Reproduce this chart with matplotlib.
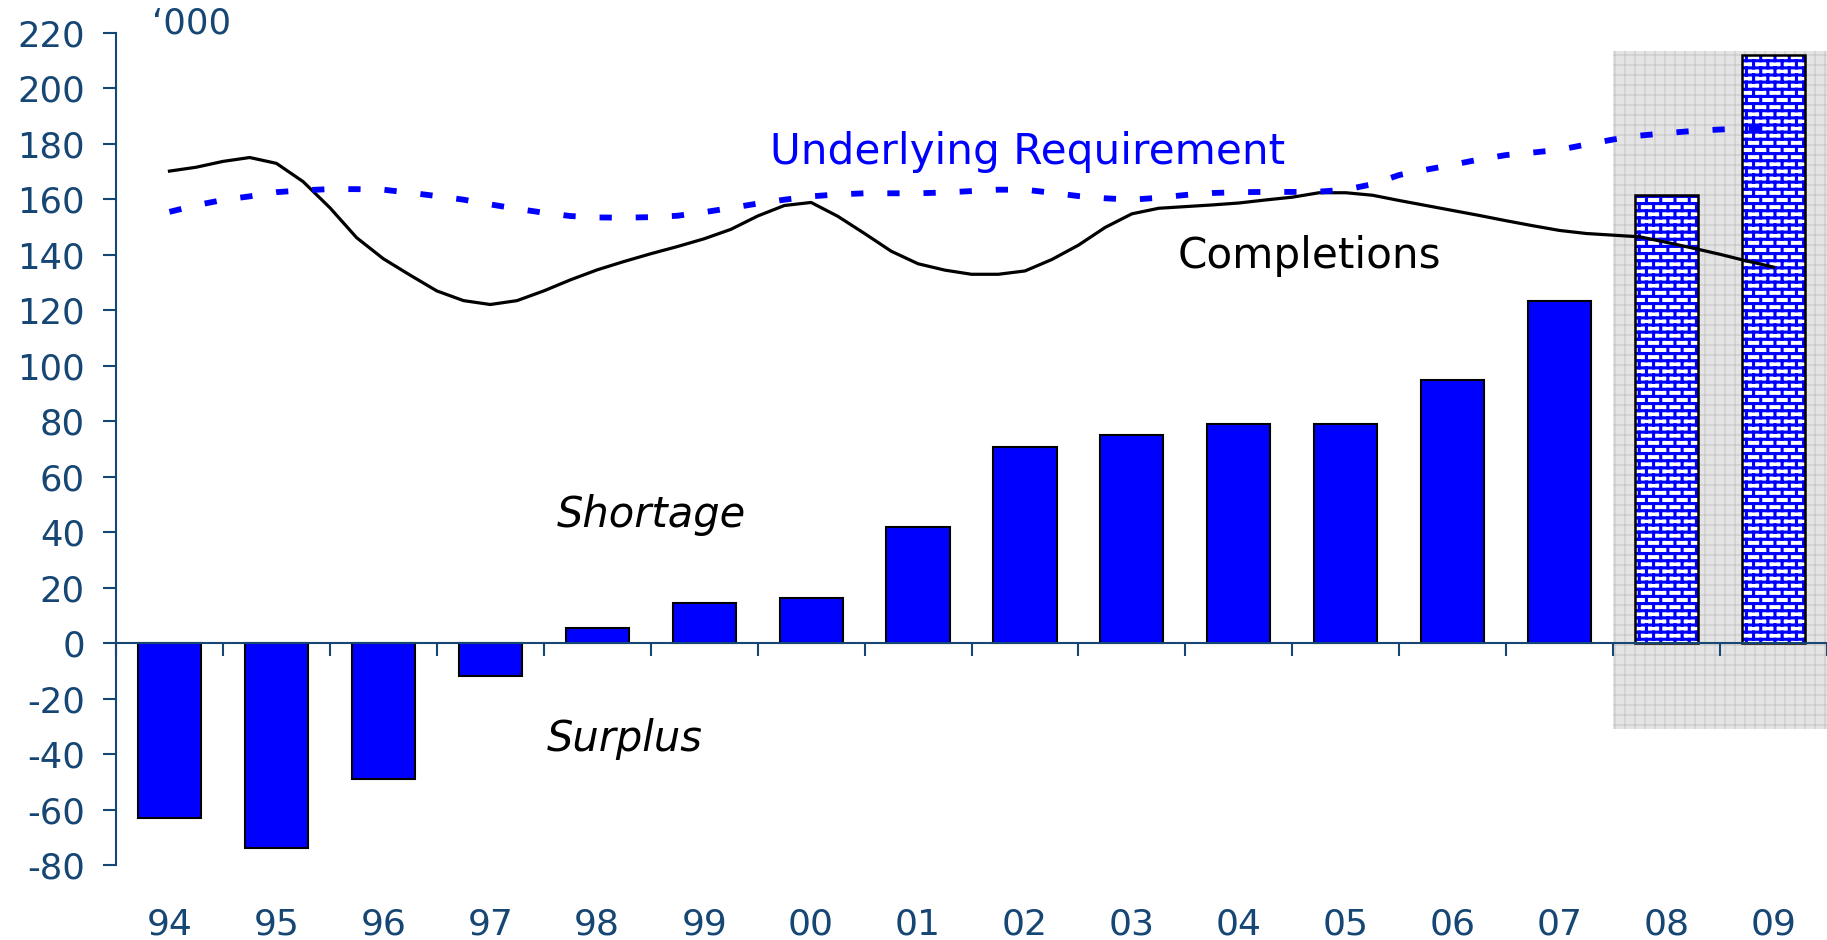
import warnings
import numpy as np
import matplotlib
matplotlib.use('Agg')
import matplotlib.pyplot as plt
import matplotlib.hatch as mhatch
from matplotlib.patches import Rectangle
from matplotlib.path import Path

warnings.filterwarnings('ignore')

# housing balance, '000 (negative = surplus), 08 and 09 are projections
years = ['94', '95', '96', '97', '98', '99', '00', '01',
         '02', '03', '04', '05', '06', '07', '08', '09']
balance = [-63, -74, -49, -12, 5.5, 14.3, 16.4, 41.7,
           70.6, 74.9, 79, 79, 95, 123.2, 161.6, 212]
projected = [False] * 14 + [True] * 2

# quarterly series, Q1 1994 .. Q1 2009
quarter = np.arange(61) / 4
completions = [170.2, 171.6, 173.7, 175.1, 173.0, 166.4, 157.0, 146.2,
               138.6, 132.7, 127.0, 123.5, 122.1, 123.5, 127.0, 131.0,
               134.6, 137.6, 140.4, 143.0, 145.8, 149.2, 154.0, 157.8,
               158.9, 153.9, 147.7, 141.3, 136.8, 134.5, 133.0, 133.0,
               134.2, 138.3, 143.5, 149.9, 154.8, 156.8, 157.4, 158.0,
               158.7, 159.8, 160.8, 162.4, 162.4, 161.5, 159.6, 157.8,
               156.0, 154.2, 152.3, 150.5, 148.8, 147.7, 147.1, 146.5,
               144.5, 142.4, 140.2, 137.8, 135.6]
requirement = [155.5, 157.9, 159.8, 161.1, 162.6, 163.3, 163.7, 163.7,
               163.5, 162.4, 161.2, 159.9, 158.2, 156.6, 155.2, 154.0,
               153.5, 153.4, 153.6, 154.1, 155.4, 156.9, 158.5, 159.9,
               161.1, 161.8, 162.2, 162.2, 162.2, 162.5, 163.0, 163.5,
               163.5, 162.4, 161.2, 160.4, 159.9, 160.6, 161.6, 162.3,
               162.6, 162.7, 162.7, 162.8, 163.5, 165.5, 168.8, 170.7,
               172.5, 174.4, 176.0, 176.9, 177.9, 179.8, 181.6, 183.0,
               183.9, 184.7, 185.2, 185.6, 185.8]

yticks = list(range(-80, 221, 20))
navy = '#164673'


class BrickHatch(mhatch.HatchPatternBase):
    rows, cols = 14, 7

    def __init__(self, hatch, density):
        n = 1 if 'b' in hatch else 0
        self.num_vertices = n * (self.rows * 2 + (self.rows + 1) * self.cols * 2)

    def set_vertices_and_codes(self, vertices, codes):
        r, c = self.rows, self.cols
        ys = (np.arange(r) + 0.5) / r
        vertices[0:2 * r:2] = np.column_stack([np.zeros(r), ys])
        vertices[1:2 * r:2] = np.column_stack([np.ones(r), ys])
        k = 2 * r
        for i in range(r + 1):
            off = 0.75 if i % 2 else 0.25
            y0 = (i - 0.5) / r
            for j in range(c):
                x = (j + off) / c
                vertices[k] = (x, max(y0, 0))
                vertices[k + 1] = (x, min(y0 + 1 / r, 1))
                k += 2
        codes[0::2] = Path.MOVETO
        codes[1::2] = Path.LINETO


class GridHatch(mhatch.HatchPatternBase):
    n = 10

    def __init__(self, hatch, density):
        self.num_vertices = 4 * self.n if 'g' in hatch else 0

    def set_vertices_and_codes(self, vertices, codes):
        s = (np.arange(self.n) + 0.5) / self.n
        m = 2 * self.n
        vertices[0:m:2] = np.column_stack([np.zeros(self.n), s])
        vertices[1:m:2] = np.column_stack([np.ones(self.n), s])
        vertices[m::2] = np.column_stack([s, np.zeros(self.n)])
        vertices[m + 1::2] = np.column_stack([s, np.ones(self.n)])
        codes[0::2] = Path.MOVETO
        codes[1::2] = Path.LINETO


mhatch._hatch_types.append(BrickHatch)
mhatch._hatch_types.append(GridHatch)


def hatch_width(artist, lw):
    # hatch line width is read from rcParams when the artist is drawn
    if hasattr(artist, 'set_hatch_linewidth'):
        artist.set_hatch_linewidth(lw)
    orig = artist.draw

    def draw(renderer):
        with plt.rc_context({'hatch.linewidth': lw}):
            orig(renderer)
    artist.draw = draw


plt.rcParams['font.family'] = 'DejaVu Sans'

fig = plt.figure(figsize=(18.27, 9.4), dpi=100)
ax = fig.add_axes([116 / 1827, 75 / 940, 1711 / 1827, 832 / 940])

x = np.arange(len(years))
proj = np.array(projected)
vals = np.array(balance)

# projection period background
shade = Rectangle((13.5, -31), 2.0, 244.5, facecolor='#e4e4e4',
                  edgecolor='#c8c8c8', linewidth=0, hatch='g', zorder=0)
ax.add_patch(shade)
hatch_width(shade, 0.8)

ax.bar(x[~proj], vals[~proj], 0.59, color='#0000ff', edgecolor='black',
       linewidth=1.5, zorder=2)
bricks = ax.bar(x[proj], vals[proj], 0.59, color='white', edgecolor='#0000ff',
                linewidth=0, hatch='b', zorder=2)
for b in bricks:
    hatch_width(b, 2.2)
ax.bar(x[proj], vals[proj], 0.59, fill=False, edgecolor='black',
       linewidth=1.8, zorder=2)

ax.plot(quarter, completions, color='black', lw=2.3, zorder=3)
ax.plot(quarter, requirement, color='#0000ff', lw=4.2, dashes=(2.1, 4.1),
        zorder=3)

ax.set_xlim(-0.5, 15.5)
ax.set_ylim(-80, 220)
ax.spines['top'].set_visible(False)
ax.spines['right'].set_visible(False)
ax.spines['bottom'].set_position(('data', 0))
for s in ('left', 'bottom'):
    ax.spines[s].set_color(navy)
    ax.spines[s].set_linewidth(1.5)

ax.set_yticks(yticks)
ax.set_yticklabels([str(v) for v in yticks])
ax.set_xticks(np.arange(len(years) + 1) - 0.5)
ax.set_xticklabels([])
ax.tick_params(axis='y', direction='out', length=9.4, width=1.5, colors=navy,
               labelsize=25.5, pad=13)
ax.tick_params(axis='x', direction='out', length=9.4, width=1.5, colors=navy)

for i, lab in enumerate(years):
    ax.text(i, -0.084, lab, transform=ax.get_xaxis_transform(), ha='center',
            va='baseline', fontsize=26, color=navy)

ax.text(-0.16, 1.011, '\u2018000', transform=ax.get_xaxis_transform(),
        fontsize=25.5, color=navy, va='center', ha='left')
ax.text(5.62, 172.6, 'Underlying Requirement', fontsize=30.3, color='#0000ff',
        va='baseline')
ax.text(9.43, 135.4, 'Completions', fontsize=30.3, color='black', va='baseline')
ax.text(3.62, 42, 'Shortage', fontsize=30, style='italic', va='baseline')
ax.text(3.53, -39, 'Surplus', fontsize=30, style='italic', va='baseline')

fig.savefig('out.png', dpi=100)
